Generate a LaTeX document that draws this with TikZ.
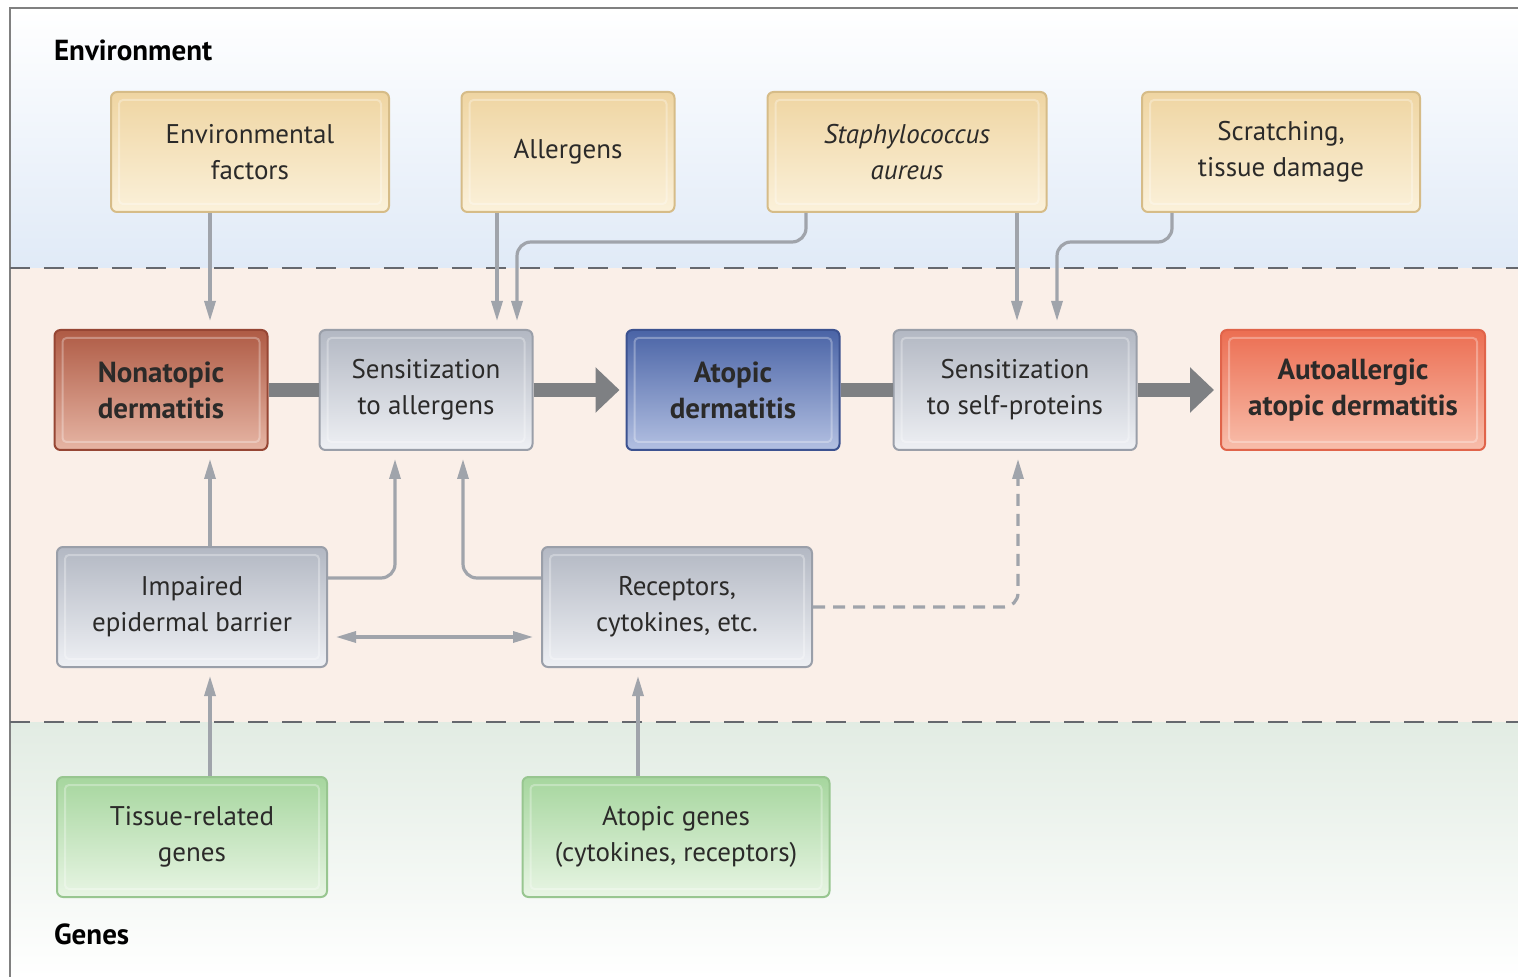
\documentclass[tikz,border=0pt]{standalone}
\usepackage{fontspec}
\setmainfont{PT Sans}
\usepackage{tikz}
\usetikzlibrary{positioning,arrows.meta}
\usepackage{xcolor}

\definecolor{txt}{HTML}{2B2A29}
\definecolor{tanTop}{HTML}{EFD5A2}
\definecolor{tanBot}{HTML}{FBF1DA}
\definecolor{tanLine}{HTML}{D6BC88}
\definecolor{grayTop}{HTML}{B3B8C3}
\definecolor{grayBot}{HTML}{EEF0F4}
\definecolor{grayLine}{HTML}{9A9FA9}
\definecolor{nonTop}{HTML}{AF5B45}
\definecolor{nonBot}{HTML}{E6B5A4}
\definecolor{nonLine}{HTML}{964634}
\definecolor{atoTop}{HTML}{4A64A6}
\definecolor{atoBot}{HTML}{B3C0E2}
\definecolor{atoLine}{HTML}{3C5290}
\definecolor{autoTop}{HTML}{EC6E52}
\definecolor{autoBot}{HTML}{F8BEAB}
\definecolor{autoLine}{HTML}{E0644A}
\definecolor{grnTop}{HTML}{A6D69E}
\definecolor{grnBot}{HTML}{E8F5E4}
\definecolor{grnLine}{HTML}{98C690}
\definecolor{envBg}{HTML}{E0EAF7}
\definecolor{midBg}{HTML}{FAEFE8}
\definecolor{genBg}{HTML}{E2ECE3}
\definecolor{sepLine}{HTML}{66686E}
\definecolor{arrGray}{HTML}{A0A4AB}
\definecolor{barGray}{HTML}{7E8083}

\begin{document}
\begin{tikzpicture}[x=0.5pt,y=-0.5pt,
	box/.style={rounded corners=3pt, line width=1pt, minimum height=60pt, inner sep=0pt,
		align=center, text=txt, font=\fontsize{13.5}{18}\selectfont,
		path picture={\draw[white, opacity=0.3, line width=1pt, rounded corners=2pt]
			([shift={(4pt,-4pt)}]path picture bounding box.north west) rectangle
			([shift={(-4pt,4pt)}]path picture bounding box.south east);}},
	envbox/.style={box, top color=tanTop, bottom color=tanBot, draw=tanLine},
	graybox/.style={box, top color=grayTop, bottom color=grayBot, draw=grayLine},
	genbox/.style={box, top color=grnTop, bottom color=grnBot, draw=grnLine},
	disbox/.style={box, font=\fontsize{14.5}{18}\selectfont\bfseries},
	arr/.style={draw=arrGray, line width=1.6pt, -{Triangle[length=10pt,width=5.5pt]}, shorten >=4pt},
	dasharr/.style={arr, dash pattern=on 6pt off 4pt},
	bar/.style={draw=barGray, line width=7pt},
	bigarr/.style={bar, -{Triangle[length=12pt,width=22pt]}, shorten >=3pt},
	sep/.style={draw=sepLine, line width=1.3pt, dash pattern=on 10pt off 7pt},
	zone/.style={font=\fontsize{14.5}{18}\selectfont\bfseries, text=black, anchor=west}]

\useasboundingbox (0,0) rectangle (1518,977);
\fill[white] (0,0) rectangle (1518,977);
\shade[top color=white, bottom color=envBg] (10,8) rectangle (1518,268);
\fill[midBg] (10,268) rectangle (1518,722);
\shade[top color=genBg, bottom color=white] (10,722) rectangle (1518,977);
\draw[gray, line width=1pt] (10,977) -- (10,8) -- (1518,8);
\draw[sep] (10,268) -- (1518,268);
\draw[sep] (10,722) -- (1518,722);

\node[zone] (env) at (47,50) {Environment};
\node[zone] (genes) at (47,934) {Genes};

\node[envbox, minimum width=139pt] (envf) at (250,152) {Environmental\\factors};
\node[envbox, minimum width=106.5pt] (allerg) at (568,152) {Allergens};
\node[envbox, minimum width=139.5pt] (staph) at (907,152) {\textit{Staphylococcus}\\\textit{aureus}};
\node[envbox, minimum width=139pt] (scratch) at (1281,152) {Scratching,\\tissue damage};

\node[disbox, top color=nonTop, bottom color=nonBot, draw=nonLine, minimum width=106.5pt] (nonat) at (161,390) {Nonatopic\\dermatitis};
\node[graybox, minimum width=106.5pt] (sensA) at (426,390) {Sensitization\\to allergens};
\node[disbox, top color=atoTop, bottom color=atoBot, draw=atoLine, minimum width=106.5pt] (atopic) at (733,390) {Atopic\\dermatitis};
\node[graybox, minimum width=121.5pt] (sensS) at (1015,390) {Sensitization\\to self-proteins};
\node[disbox, top color=autoTop, bottom color=autoBot, draw=autoLine, minimum width=132pt] (auto) at (1353,390) {Autoallergic\\atopic dermatitis};

\node[graybox, minimum width=135pt] (impair) at (192,607) {Impaired\\epidermal barrier};
\node[graybox, minimum width=135pt] (recep) at (677,607) {Receptors,\\cytokines, etc.};

\node[genbox, minimum width=135pt] (tissue) at (192,837) {Tissue-related\\genes};
\node[genbox, minimum width=153.5pt] (atgenes) at (676,837) {Atopic genes\\(cytokines, receptors)};

\draw[bar] (nonat) -- (sensA);
\draw[bigarr] (sensA) -- (atopic);
\draw[bar] (atopic) -- (sensS);
\draw[bigarr] (sensS) -- (auto);

\draw[arr] (envf.south -| 210,0) -- (nonat.north -| 210,0);
\draw[arr] (allerg.south -| 497,0) -- (sensA.north -| 497,0);
\draw[arr, rounded corners=7pt] (staph.south -| 806,0) |- (517,242) -- (sensA.north -| 517,0);
\draw[arr] (staph.south -| 1017,0) -- (sensS.north -| 1017,0);
\draw[arr, rounded corners=7pt] (scratch.south -| 1172,0) |- (1057,242) -- (sensS.north -| 1057,0);

\draw[arr] (impair.north -| 210,0) -- (nonat.south -| 210,0);
\draw[arr, rounded corners=7pt] (impair.east |- 0,578) -| (sensA.south -| 395,0);
\draw[arr, rounded corners=7pt] (recep.west |- 0,578) -| (sensA.south -| 463,0);
\draw[dasharr, rounded corners=7pt] (recep.east) -| (sensS.south -| 1018,0);
\draw[arr, {Triangle[length=10pt,width=5.5pt]}-{Triangle[length=10pt,width=5.5pt]}, shorten <=4pt] (impair.east |- 0,637) -- (recep.west |- 0,637);

\draw[arr] (tissue.north -| 210,0) -- (impair.south -| 210,0);
\draw[arr] (atgenes.north -| 638,0) -- (recep.south -| 638,0);
\end{tikzpicture}
\end{document}
